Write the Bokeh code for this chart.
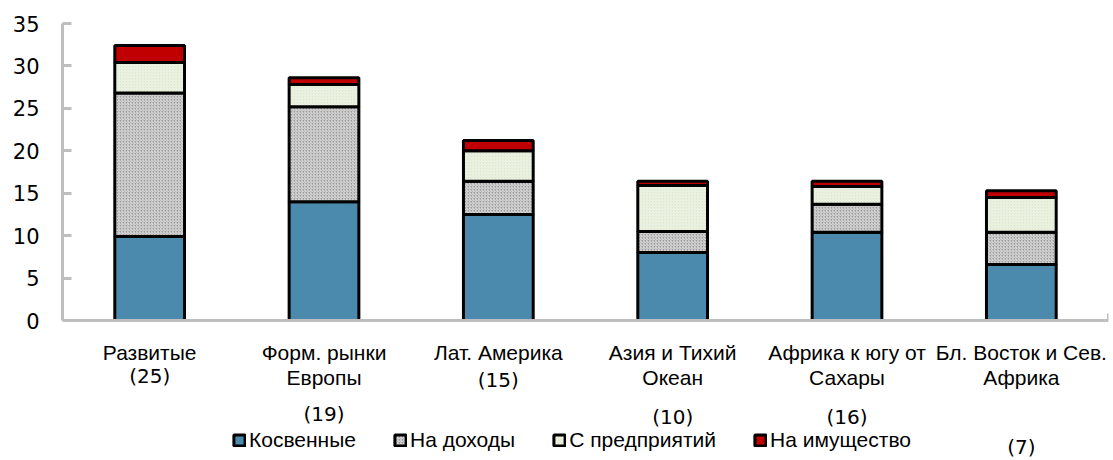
from bokeh.plotting import figure
from bokeh.models import (ColumnDataSource, Range1d, FixedTicker, Label, Legend, LegendItem, Span)
from bokeh.transform import stack
from bokeh.embed import file_html
from bokeh.resources import INLINE

# ---- data ----
cat_line1 = ["Развитые", "Форм. рынки", "Лат. Америка", "Азия и Тихий", "Африка к югу от", "Бл. Восток и Сев."]
cat_line2 = ["", "Европы", "", "Океан", "Сахары", "Африка"]
counts = [25, 19, 15, 10, 16, 7]

kosv = [9.9, 14.0, 12.5, 8.0, 10.4, 6.6]      # Косвенные
dohod = [16.9, 11.2, 3.9, 2.5, 3.3, 3.8]      # На доходы
predpr = [3.6, 2.6, 3.6, 5.4, 2.1, 4.1]       # С предприятий
imush = [2.0, 0.8, 1.2, 0.5, 0.6, 0.8]        # На имущество

series_names = ["Косвенные", "На доходы", "С предприятий", "На имущество"]
y_ticks = [0, 5, 10, 15, 20, 25, 30, 35]

# ---- layout / style ----
Y_MAX = 35
PX = 35 / 297            # data units per pixel
BOTTOM_PX = 140          # label area below the zero line, in pixels
Y_MIN = -BOTTOM_PX * PX

TEXT_FONT = "Liberation Sans"
NUM_FONT = "DejaVu Sans"
AXIS_GREY = "#BFBFBF"

xs = [i + 0.5 for i in range(len(cat_line1))]
src = ColumnDataSource(dict(x=xs, k=kosv, d=dohod, p=predpr, m=imush))

p = figure(width=1113, height=460, x_range=Range1d(0, len(xs)), y_range=Range1d(Y_MIN, Y_MAX),
           output_backend="svg", toolbar_location=None, x_axis_location=None,
           min_border_left=62, min_border_right=5, min_border_top=23, min_border_bottom=0)
p.outline_line_color = None
p.xgrid.visible = False
p.ygrid.visible = False
p.background_fill_color = "white"

# y axis (only spans 0..35)
ya = p.yaxis[0]
ya.ticker = FixedTicker(ticks=y_ticks)
ya.bounds = (0, Y_MAX)
ya.axis_line_color = AXIS_GREY
ya.axis_line_width = 3
ya.major_tick_line_color = AXIS_GREY
ya.major_tick_line_width = 3
ya.major_tick_in = 9
ya.major_tick_out = 0
ya.minor_tick_line_color = None
ya.major_label_standoff = 23
ya.major_label_text_font = NUM_FONT
ya.major_label_text_font_size = "21px"
ya.major_label_text_color = "black"

# category axis line at zero, with end tick
p.add_layout(Span(location=0, dimension="width", line_color=AXIS_GREY, line_width=3))
p.segment(x0=[len(xs)], y0=[0], x1=[len(xs)], y1=[7 * PX], line_color=AXIS_GREY, line_width=3)

fields = ["k", "d", "p", "m"]
fills = ["#4B8AAD", "#9C9C9C", "#DDE8CC", "#C00000"]
hatches = [" ", "/", "/", " "]
hatch_alpha = [0.0, 0.7, 0.6, 0.0]

renderers = []
for i, f in enumerate(fields):
    bottom = 0 if i == 0 else stack(*fields[:i])
    r = p.vbar(x="x", width=0.4, bottom=bottom, top=stack(*fields[:i + 1]), source=src,
               fill_color=fills[i], line_color="black", line_width=3,
               hatch_pattern=hatches[i], hatch_color="white", hatch_alpha=hatch_alpha[i],
               hatch_scale=3, hatch_weight=1)
    renderers.append(r)

# category labels
line1_off = 32
line2_off = 57
count_offs = [55, 93, 59, 96, 96, 126]
for i, x in enumerate(xs):
    p.add_layout(Label(x=x, y=-line1_off * PX, text=cat_line1[i], text_align="center",
                       text_baseline="middle", text_font=TEXT_FONT, text_font_size="21px",
                       text_color="black"))
    if cat_line2[i]:
        p.add_layout(Label(x=x, y=-line2_off * PX, text=cat_line2[i], text_align="center",
                           text_baseline="middle", text_font=TEXT_FONT, text_font_size="21px",
                           text_color="black"))
    p.add_layout(Label(x=x, y=-count_offs[i] * PX, text="(%d)" % counts[i], text_align="center",
                       text_baseline="middle", text_font=NUM_FONT, text_font_size="20px",
                       text_color="black"))

legend = Legend(items=[LegendItem(label=series_names[i], renderers=[renderers[i]]) for i in range(4)],
                orientation="horizontal", location=(170, 8),
                glyph_width=14, glyph_height=14, label_standoff=3, spacing=37,
                padding=0, margin=0, border_line_alpha=0, background_fill_alpha=0,
                label_text_font=TEXT_FONT, label_text_font_size="21px", label_height=14,
                label_text_color="black")
p.add_layout(legend, "center")

open("out.html", "w").write(file_html(p, INLINE))
